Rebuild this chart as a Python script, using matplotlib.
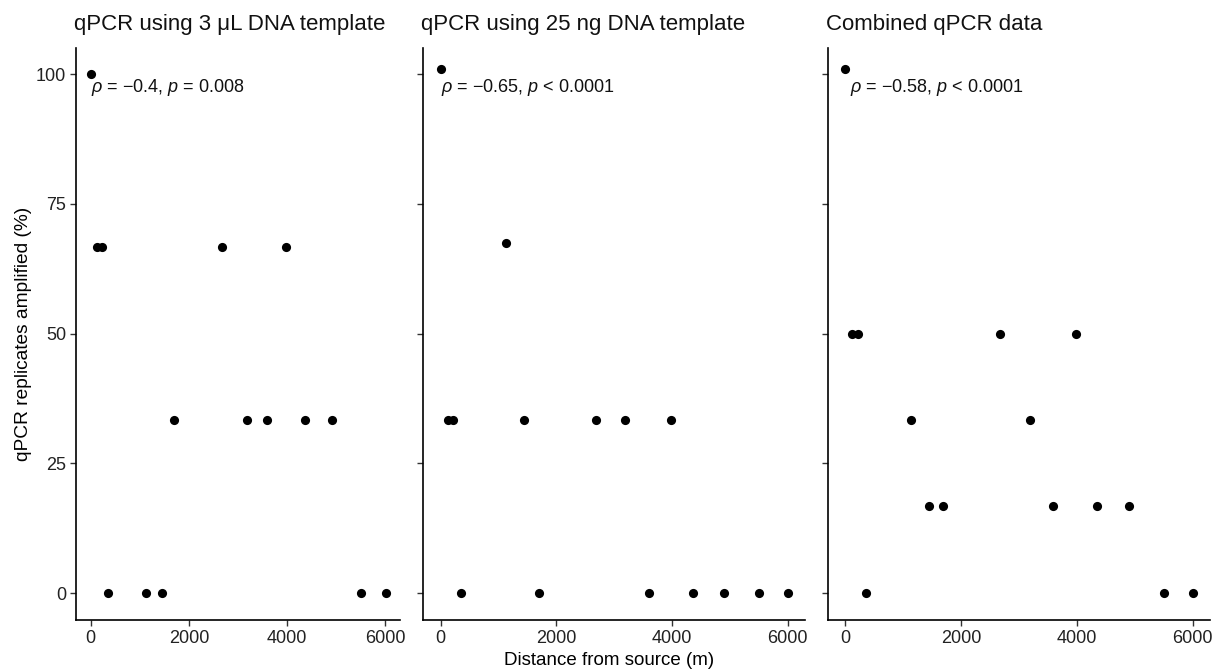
import numpy as np
from matplotlib import pyplot as plt

# distances of sampling sites from the source (m)
distance = [0, 120, 220, 360, 1135, 1445, 1695, 2680, 3190, 3595, 3985, 4355, 4905, 5510, 6005]

# % of qPCR replicates amplified at each site
amp_3ul = [100, 66.7, 66.7, 0, 0, 0, 33.3, 66.7, 33.3, 33.3, 66.7, 33.3, 33.3, 0, 0]
amp_25ng = [101, 33.3, 33.3, 0, 67.5, 33.3, 0, 33.3, 33.3, 0, 33.3, 0, 0, 0, 0]
amp_combined = [101, 50, 50, 0, 33.3, 16.7, 16.7, 50, 33.3, 16.7, 50, 16.7, 16.7, 0, 0]

titles = ["qPCR using 3 \u03bcL DNA template",
          "qPCR using 25 ng DNA template",
          "Combined qPCR data"]
rho_labels = ["\u2212" + "0.4", "\u2212" + "0.65", "\u2212" + "0.58"]
p_labels = ["= 0.008", "< 0.0001", "< 0.0001"]
label_x = [0, 0, 80]

x_ticks = [0, 2000, 4000, 6000]
y_ticks = [0, 25, 50, 75, 100]

plt.rcParams['font.family'] = ['Liberation Sans', 'DejaVu Sans']
plt.rcParams['mathtext.fontset'] = 'custom'
plt.rcParams['mathtext.rm'] = 'Liberation Sans'
plt.rcParams['mathtext.it'] = 'Liberation Sans:italic'

fig = plt.figure(figsize=(12.18, 6.69), dpi=100)

bottom, height = 0.073, 0.855
boxes = [[0.0624, bottom, 0.266, height],
         [0.3475, bottom, 0.3136, height],
         [0.6798, bottom, 0.3136, height]]
series = [amp_3ul, amp_25ng, amp_combined]

for i, (box, values) in enumerate(zip(boxes, series)):
    ax = fig.add_axes(box)
    ax.plot(distance, values, 'o', color='black', markersize=6.6, markeredgewidth=0)
    ax.set_xlim(-300, 6300)
    ax.set_ylim(-5.2, 105)
    ax.set_xticks(x_ticks)
    ax.set_yticks(y_ticks)
    ax.spines['top'].set_visible(False)
    ax.spines['right'].set_visible(False)
    for s in ['left', 'bottom']:
        ax.spines[s].set_linewidth(1.2)
    ax.tick_params(axis='both', length=4, width=1.0, color='#333333',
                   labelsize=13, labelcolor='#222222', pad=3)
    if i > 0:
        ax.set_yticklabels([])
    ax.set_title(titles[i], loc='left', fontsize=16, pad=13, x=-0.005, color='#111111')
    label = r"$\rho$ = " + rho_labels[i] + r", $p$ " + p_labels[i]
    ax.text(label_x[i], 97.5, label, fontsize=13, ha='left', va='center', color='#111111')
    if i == 0:
        ax.set_ylabel("qPCR replicates amplified (%)", fontsize=13.8, labelpad=3)

fig.text(0.5, 0.013, "Distance from source (m)", fontsize=13.5, ha='center', va='center')

fig.savefig("out.png", dpi=100)
